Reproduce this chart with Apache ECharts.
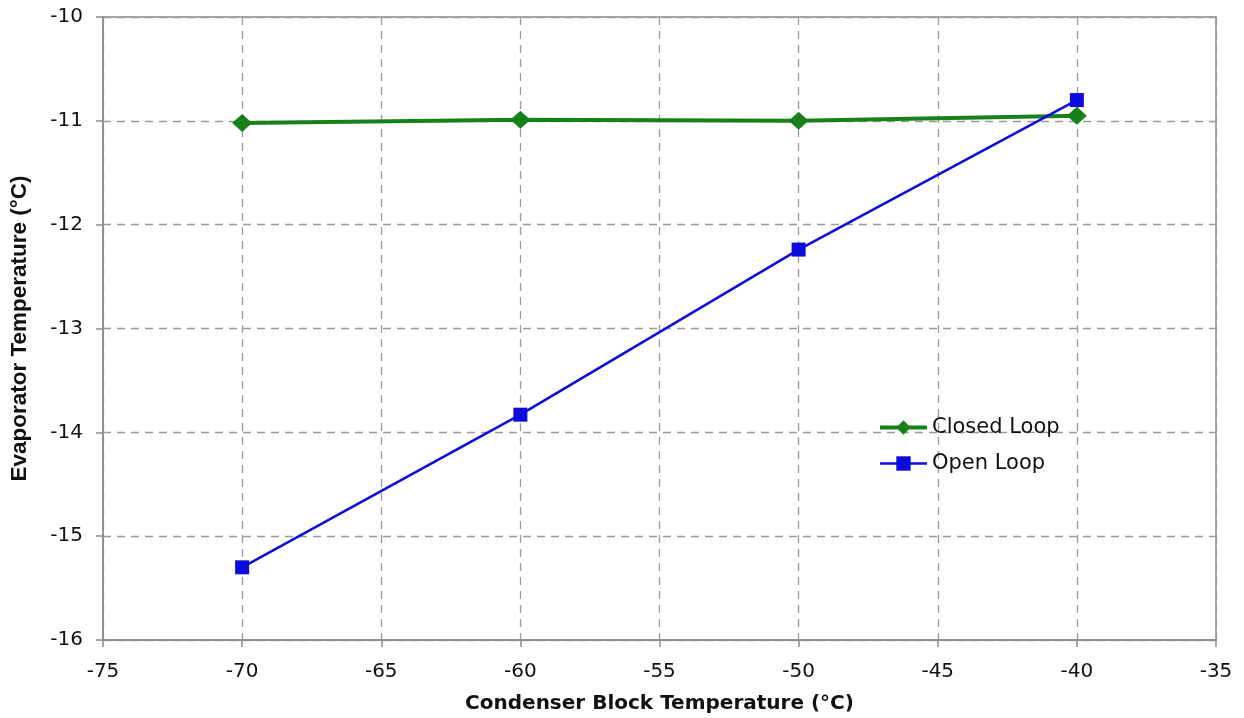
<!DOCTYPE html>
<html><head><meta charset="utf-8">
<script src="https://cdn.jsdelivr.net/npm/echarts@6/dist/echarts.min.js"></script>
<style>html,body{margin:0;padding:0;background:#fff}#c{width:1244px;height:718px}</style>
</head><body><div id="c"></div>
<script>
const xValues = [-70, -60, -50, -40];
const closedLoop = [-11.02, -10.99, -11.0, -10.95];
const openLoop = [-15.3, -13.83, -12.24, -10.8];
const seriesNames = ['Closed Loop', 'Open Loop'];
const xAxisTitle = 'Condenser Block Temperature (°C)';
const yAxisTitle = 'Evaporator Temperature (°C)';

const green = '#17801a', blue = '#0c0cdc';
const chart = echarts.init(document.getElementById('c'));
const font = 'DejaVu Sans, sans-serif';
const gridLine = {show: true, lineStyle: {color: '#9a9a9a', type: [8, 6], width: 1.3}};
chart.setOption({
  animation: false,
  grid: {left: 103, right: 28, top: 17, bottom: 78, show: true, borderColor: '#8a8a8a', borderWidth: 1.5,
         containLabel: false, outerBoundsMode: 'none'},
  legend: {
    orient: 'vertical', left: 878, top: 417, padding: 0, itemGap: 15, itemWidth: 47, itemHeight: 18,
    textStyle: {fontFamily: font, fontSize: 21, color: '#111'},
    data: [
      {name: seriesNames[0], lineStyle: {width: 4, color: green}},
      {name: seriesNames[1], lineStyle: {width: 2.5, color: blue}}
    ]
  },
  xAxis: {
    type: 'value', min: -75, max: -35, interval: 5,
    name: xAxisTitle, nameLocation: 'middle', nameGap: 54,
    nameTextStyle: {fontFamily: 'DejaVu Sans, sans-serif', fontSize: 20, fontWeight: 'bold', color: '#111'},
    axisLine: {show: true, onZero: false, lineStyle: {color: '#8a8a8a', width: 1.5}},
    axisTick: {show: true, length: 7, lineStyle: {color: '#8a8a8a', width: 1.5}},
    axisLabel: {fontFamily: font, fontSize: 20, color: '#111', margin: 22},
    splitLine: gridLine
  },
  yAxis: {
    type: 'value', min: -16, max: -10, interval: 1,
    name: yAxisTitle, nameLocation: 'middle', nameGap: 72,
    nameTextStyle: {fontFamily: 'Liberation Sans, Arial, sans-serif', fontSize: 22.5, fontWeight: 'bold', color: '#111'},
    axisLine: {show: true, lineStyle: {color: '#8a8a8a', width: 1.5}},
    axisTick: {show: true, length: 7, lineStyle: {color: '#8a8a8a', width: 1.5}},
    axisLabel: {fontFamily: font, fontSize: 20, color: '#111', margin: 20},
    splitLine: gridLine
  },
  series: [
    {
      name: seriesNames[0], type: 'line',
      data: xValues.map((x, i) => [x, closedLoop[i]]),
      symbol: 'diamond', symbolSize: [20, 18],
      lineStyle: {color: green, width: 4},
      itemStyle: {color: green}, z: 2
    },
    {
      name: seriesNames[1], type: 'line',
      data: xValues.map((x, i) => [x, openLoop[i]]),
      symbol: 'rect', symbolSize: 14,
      lineStyle: {color: blue, width: 2.5},
      itemStyle: {color: blue}, z: 3
    }
  ]
});
</script></body></html>
